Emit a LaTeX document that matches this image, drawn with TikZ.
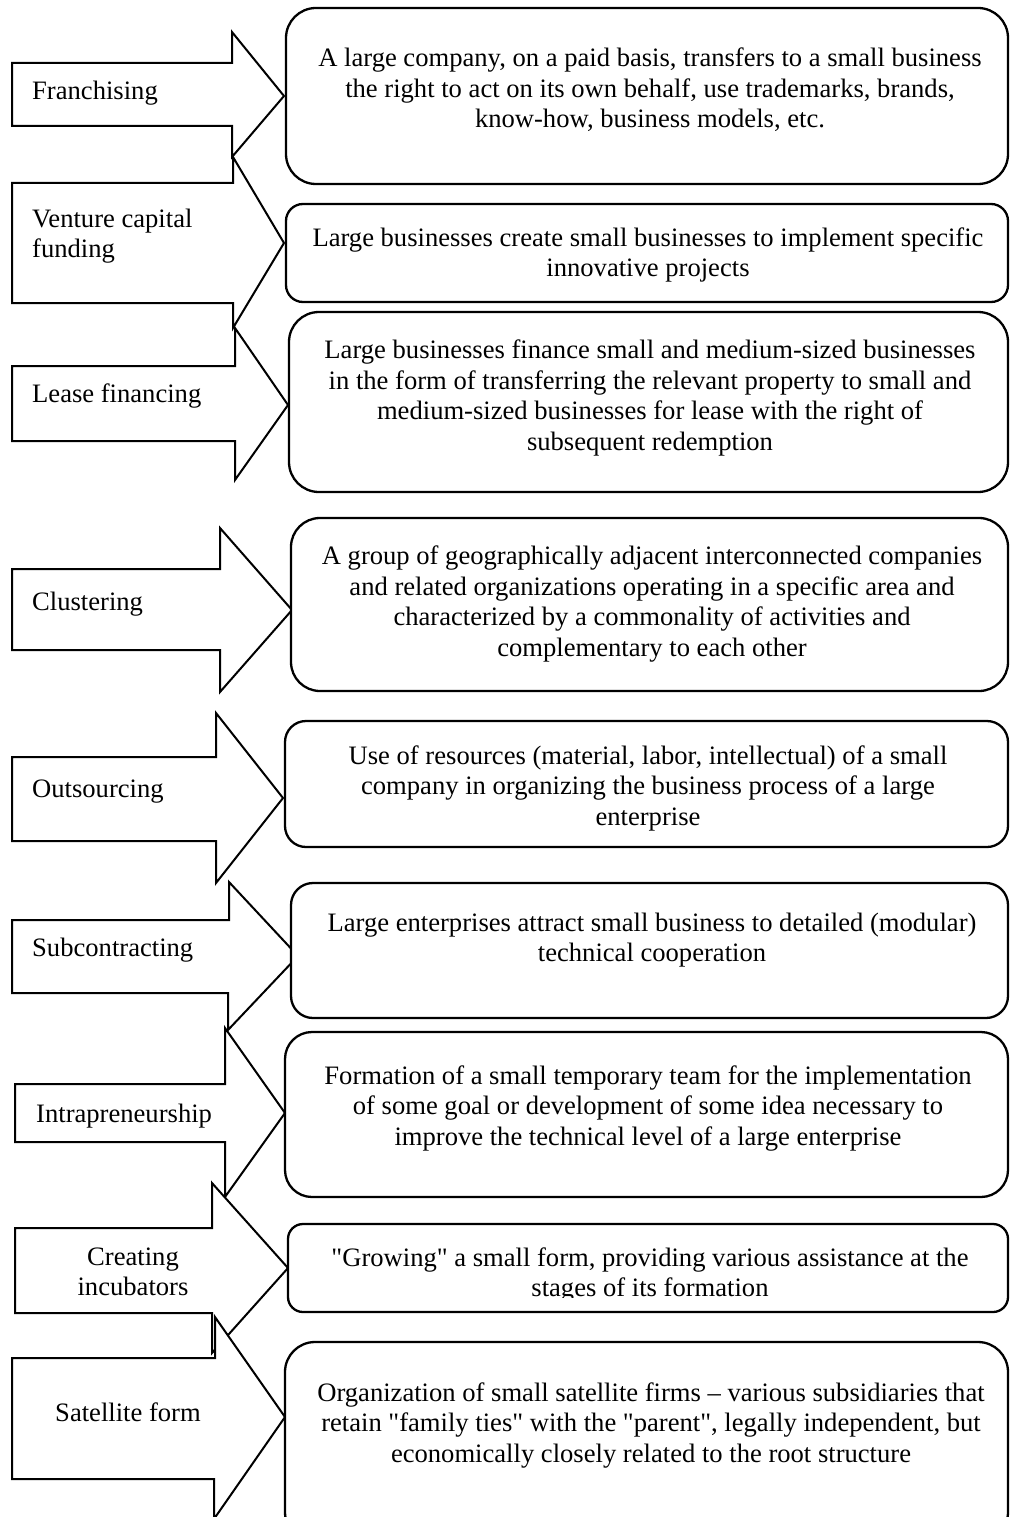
\documentclass[tikz,border=0pt]{standalone}
\usepackage{fontspec}
\setmainfont{Liberation Serif}
\font\rawqfont="Liberation Serif" at 26.6pt
\newcommand{\sq}{{\rawqfont\char34}}
\begin{document}
\begin{tikzpicture}[x=1pt,y=-1pt,
  blockarrow/.style={draw=black, fill=white, line width=2pt, line join=miter},
  infobox/.style={draw=black, fill=white, line width=2.3pt, inner sep=0pt, outer sep=0pt, anchor=north west},
  boxtext/.style={align=center, inner sep=0pt, font=\fontsize{26.6}{30.5}\selectfont},
  lbl/.style={align=left, inner sep=0pt, anchor=west, font=\fontsize{26.6}{30.5}\selectfont},
  clbl/.style={align=center, inner sep=0pt, font=\fontsize{26.6}{30.5}\selectfont}]
\useasboundingbox (0,0) rectangle (1010,1517);
\clip (0,0) rectangle (1010,1517);
% block arrows
\draw[blockarrow] (12,63) -- (232,63) -- (232,32) -- (284,96) -- (232,157) -- (232,126) -- (12,126) -- cycle;
\draw[blockarrow] (12,183) -- (233,183) -- (233,157) -- (284,243) -- (233,328) -- (233,303) -- (12,303) -- cycle;
\draw[blockarrow] (12,366) -- (235,366) -- (235,328) -- (288,405) -- (235,480) -- (235,441) -- (12,441) -- cycle;
\draw[blockarrow] (12,569) -- (220,569) -- (220,528) -- (292,610) -- (220,692) -- (220,650) -- (12,650) -- cycle;
\draw[blockarrow] (12,757) -- (216,757) -- (216,713) -- (283,798) -- (216,883) -- (216,841) -- (12,841) -- cycle;
\draw[blockarrow] (12,920) -- (229,920) -- (229,882) -- (298,956) -- (228,1030) -- (228,993) -- (12,993) -- cycle;
\draw[blockarrow] (15,1084) -- (225,1084) -- (225,1028) -- (285,1113) -- (225,1197) -- (225,1142) -- (15,1142) -- cycle;
\draw[blockarrow] (15,1228) -- (212,1228) -- (212,1183) -- (288,1268) -- (212,1353) -- (212,1313) -- (15,1313) -- cycle;
\draw[blockarrow] (12,1358) -- (215,1358) -- (215,1317) -- (285,1417) -- (214,1519) -- (214,1479) -- (12,1479) -- cycle;
% labels
\node[lbl] (l1) at (32,93) {Franchising};
\node[lbl] (l2) at (32,236) {Venture capital\\funding};
\node[lbl] (l3) at (32,396) {Lease financing};
\node[lbl] (l4) at (32,604) {Clustering};
\node[lbl] (l5) at (32,792) {Outsourcing};
\node[lbl] (l6) at (32,950) {Subcontracting};
\node[lbl] (l7) at (36,1116) {Intrapreneurship};
\node[clbl] (l8) at (133,1272) {Creating\\incubators};
\node[clbl] (l9) at (128,1412) {Satellite form};
% boxes
\node[infobox, rounded corners=30pt, minimum width=722pt, minimum height=176pt] (b1) at (286,8) {};
\node[infobox, rounded corners=17pt, minimum width=722pt, minimum height=98pt] (b2) at (286,204) {};
\node[infobox, rounded corners=30pt, minimum width=719pt, minimum height=180pt] (b3) at (289,312) {};
\node[infobox, rounded corners=29pt, minimum width=717pt, minimum height=173pt] (b4) at (291,518) {};
\node[infobox, rounded corners=21pt, minimum width=723pt, minimum height=126pt] (b5) at (285,721) {};
\node[infobox, rounded corners=22pt, minimum width=717pt, minimum height=135pt] (b6) at (291,883) {};
\node[infobox, rounded corners=27pt, minimum width=723pt, minimum height=165pt] (b7) at (285,1032) {};
\node[infobox, rounded corners=15pt, minimum width=720pt, minimum height=88pt] (b8) at (288,1224) {};
\node[infobox, rounded corners=30pt, minimum width=723pt, minimum height=200pt] (b9) at (285,1342) {};
% box texts
\node[boxtext] (t1) at (650,90) {A large company, on a paid basis, transfers to a small business\\the right to act on its own behalf, use trademarks, brands,\\know-how, business models, etc.};
\node[boxtext] (t2) at (648,255) {Large businesses create small businesses to implement specific\\innovative projects};
\node[boxtext] (t3) at (650,398) {Large businesses finance small and medium-sized businesses\\in the form of transferring the relevant property to small and\\medium-sized businesses for lease with the right of\\subsequent redemption};
\node[boxtext] (t4) at (652,604) {A group of geographically adjacent interconnected companies\\and related organizations operating in a specific area and\\characterized by a commonality of activities and\\complementary to each other};
\node[boxtext] (t5) at (648,788) {Use of resources (material, labor, intellectual) of a small\\company in organizing the business process of a large\\enterprise};
\node[boxtext] (t6) at (652,940) {Large enterprises attract small business to detailed (modular)\\technical cooperation};
\node[boxtext] (t7) at (648,1108) {Formation of a small temporary team for the implementation\\of some goal or development of some idea necessary to\\improve the technical level of a large enterprise};
\begin{scope}
\clip (288,1226) rectangle (1008,1297);
\node[boxtext] (t8) at (650,1275) {\sq Growing\sq{} a small form, providing various assistance at the\\stages of its formation};
\end{scope}
\node[boxtext] (t9) at (651,1425) {Organization of small satellite firms -- various subsidiaries that\\retain \sq family ties\sq{} with the \sq parent\sq, legally independent, but\\economically closely related to the root structure};
\end{tikzpicture}
\end{document}
